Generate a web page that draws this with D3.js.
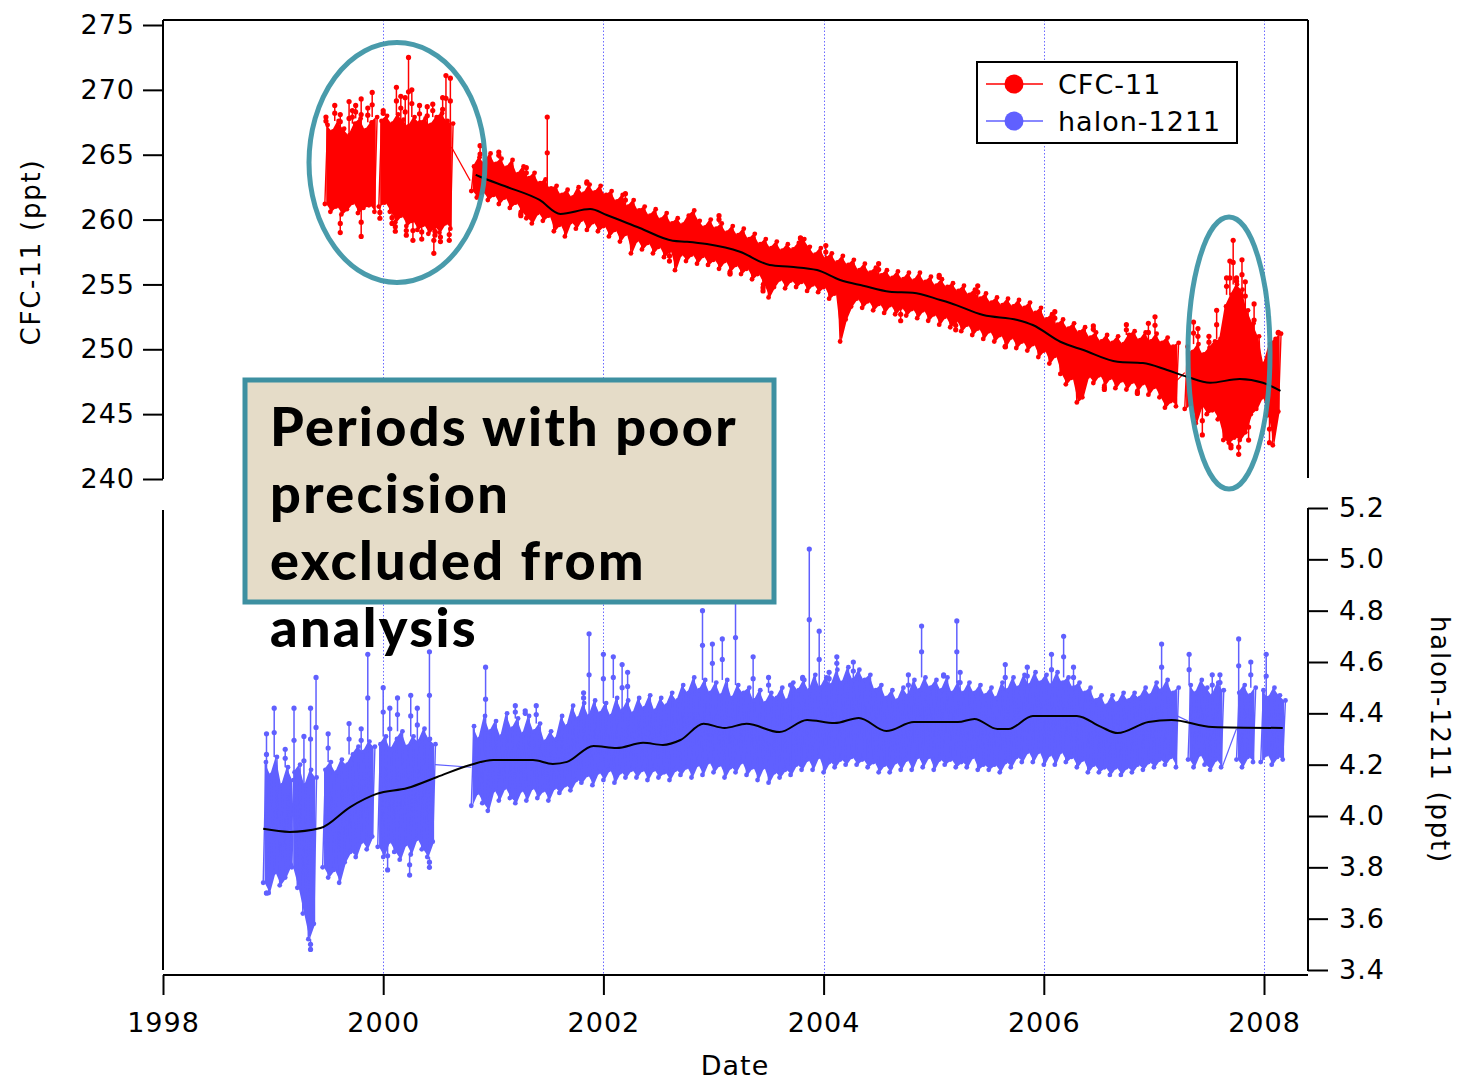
<!DOCTYPE html>
<html>
<head>
<meta charset="utf-8">
<script src="https://cdn.jsdelivr.net/npm/d3@7"></script>
<style>
  html, body { margin: 0; padding: 0; background: #fff; }
  svg { display: block; }
  text { font-family: "DejaVu Sans", Verdana, sans-serif; }
</style>
</head>
<body>
<svg id="chart" width="1458" height="1080"></svg>
<script>
// ---------------- data ----------------
// Each record series is stored as consecutive 0.05-year bins: the low and high
// value reached inside each bin, per continuous measurement segment.
const binStep = 0.05;

// CFC-11 (ppt)
const cfcSegmentStarts = [1999.47, 1999.96, 2000.80, 2007.28];
const cfcA_lo = [261.2, 260.6, 261.0, 260.4, 260.8, 261.3, 260.5, 260.9, 261.1, 260.6];
const cfcA_hi = [267.3, 266.8, 267.6, 267.0, 266.5, 267.4, 267.8, 266.9, 267.5, 267.9];
const cfcB_lo = [261.0, 261.3, 260.6, 259.8, 260.3, 259.5, 259.9, 259.2, 259.6, 258.9, 259.4, 259.0, 259.7, 259.3];
const cfcB_hi = [267.6, 268.0, 267.4, 268.1, 267.7, 267.2, 267.9, 267.5, 267.8, 267.3, 267.9, 268.2, 267.6, 267.4];
const cfcC_lo = [262.2,
  261.7, 262.1, 261.5, 261.9, 261.2, 261.7, 260.9, 261.3, 260.6, 260.1,
  259.7, 260.5, 259.9, 260.3, 259.1, 259.6, 258.7, 259.8, 259.3, 260.0,
  259.2, 259.8, 259.1, 259.5, 258.7, 259.2, 258.3, 258.9, 257.4, 258.4,
  257.7, 258.2, 257.4, 257.9, 257.1, 257.6, 256.1, 257.3, 256.8, 257.3,
  256.6, 257.2, 256.5, 256.9, 256.2, 256.8, 256.0, 256.5, 255.8, 256.2,
  255.4, 255.8, 255.0, 254.0, 254.8, 255.4, 254.7, 255.3, 254.8, 255.2,
  254.5, 255.0, 254.4, 254.8, 253.9, 254.3, 250.6, 252.3, 253.3, 253.9,
  253.2, 253.7, 253.0, 253.5, 252.8, 253.4, 252.7, 253.2, 252.6, 253.1,
  252.4, 253.0, 252.2, 252.7, 251.9, 252.5, 251.7, 252.2, 251.4, 251.9,
  251.1, 251.6, 250.8, 251.4, 250.6, 251.1, 250.2, 250.9, 250.1, 250.6,
  249.9, 250.4, 249.4, 249.9, 248.9, 249.5, 248.1, 247.3, 247.8, 245.9,
  246.3, 247.9, 247.4, 248.0, 247.2, 247.8, 247.0, 247.6, 246.9, 247.5,
  246.8, 247.4, 246.5, 247.1, 246.3, 245.5, 246.0, 245.6];
const cfcC_hi = [264.1,
  264.8, 264.4, 265.1, 264.3, 264.7, 264.0, 264.6, 263.5, 264.1, 263.2,
  263.6, 262.8, 263.1, 262.4, 262.6, 261.9, 262.3, 261.7, 262.5, 262.0,
  262.7, 262.1, 262.6, 261.9, 262.2, 261.4, 261.9, 261.0, 261.5, 260.7,
  261.0, 260.3, 260.8, 260.0, 260.5, 259.7, 260.1, 259.6, 260.3, 260.7,
  259.9, 259.4, 260.0, 259.3, 259.7, 259.0, 259.5, 258.8, 259.3, 258.5,
  258.9, 258.1, 258.5, 257.8, 258.3, 257.6, 258.1, 257.7, 258.2, 258.5,
  257.9, 257.3, 257.8, 257.0, 257.4, 256.7, 257.2, 256.5, 256.9, 256.1,
  256.6, 255.9, 256.3, 255.7, 256.1, 255.5, 256.0, 255.4, 255.9, 255.3,
  255.9, 255.2, 255.6, 254.9, 255.4, 254.8, 255.1, 254.5, 254.9, 254.2,
  254.6, 253.9, 254.3, 253.6, 254.0, 253.4, 253.9, 253.3, 253.8, 253.2,
  253.6, 252.8, 253.2, 252.3, 252.7, 251.9, 252.3, 251.6, 252.0, 251.3,
  251.7, 250.9, 251.3, 250.6, 251.1, 250.5, 251.0, 250.4, 251.1, 251.4,
  250.7, 251.3, 250.6, 251.2, 250.5, 250.9, 250.2, 250.5];
const cfcD_lo = [245.4, 245.8, 244.3, 245.6, 245.0, 245.3, 244.6, 243.0, 242.8, 243.2, 243.0, 243.6, 245.0, 245.4, 246.3, 244.9, 242.6, 245.2];
const cfcD_hi = [250.2, 249.8, 250.4, 249.6, 250.1, 250.6, 250.8, 253.3, 254.2, 255.0, 254.6, 253.0, 252.0, 251.0, 248.9, 250.4, 250.8, 251.2];
// isolated excursions beyond the dense band
const cfcSpikeYears  = [1999.48, 1999.56, 1999.61, 1999.69, 1999.72, 1999.75, 1999.80, 1999.86, 1999.90, 1999.61, 1999.80,
  2000.00, 2000.12, 2000.16, 2000.20, 2000.23, 2000.26, 2000.33, 2000.40, 2000.45, 2000.54, 2000.57, 2000.61,
  1999.97, 2000.08, 2000.11, 2000.21, 2000.27, 2000.35, 2000.46, 2000.47, 2000.52, 2000.60,
  2000.88, 2001.05, 2001.25, 2001.30, 2001.49, 2001.85, 2002.20, 2002.60, 2003.05, 2003.15, 2003.45, 2003.79, 2004.02, 2004.50, 2004.70,
  2005.05, 2005.20, 2005.40, 2005.65, 2006.10, 2006.45, 2006.55, 2006.75, 2006.85, 2006.95, 2007.01,
  2007.36, 2007.40, 2007.44, 2007.50, 2007.57, 2007.66, 2007.69, 2007.70, 2007.72, 2007.75, 2007.77, 2007.80, 2007.83, 2007.86, 2007.91, 2008.05, 2008.13];
const cfcSpikeValues = [267.9, 268.8, 268.1, 269.1, 268.4, 268.8, 269.3, 268.6, 269.8, 259.0, 258.7,
  268.4, 270.2, 269.5, 269.4, 272.5, 270.0, 268.8, 268.7, 268.9, 269.4, 271.1, 270.9,
  260.1, 259.7, 259.1, 258.8, 258.4, 258.5, 257.4, 258.8, 258.3, 258.4,
  265.7, 265.2, 260.3, 264.0, 267.9, 262.9, 262.0, 256.8, 260.3, 255.8, 254.5, 258.6, 258.0, 256.6, 252.2,
  255.7, 251.5, 254.9, 250.2, 252.9, 251.8, 246.9, 251.9, 246.6, 252.0, 252.5,
  252.1, 251.6, 243.4, 251.0, 253.0, 255.5, 256.8, 242.4, 258.4, 255.5, 241.9, 256.9, 255.2, 243.0, 253.5, 242.8, 251.3];
// joins between segments: [year0, value0, year1, value1]
const cfcBridges = [[2000.62, 265.6, 2000.79, 263.0], [2007.21, 247.6, 2007.28, 248.2]];
// smoothed curve
const cfcTrendYears  = [2000.84, 2000.88, 2001.12, 2001.42, 2001.61, 2001.88, 2002.03, 2002.33, 2002.63, 2002.76, 2002.94, 2003.24, 2003.51, 2003.70, 2003.94, 2004.15, 2004.36, 2004.60, 2004.81, 2005.06, 2005.15, 2005.45, 2005.76, 2005.90, 2006.15, 2006.36, 2006.67, 2006.90, 2007.12, 2007.30, 2007.51, 2007.78, 2007.99, 2008.15];
const cfcTrendValues = [263.45, 263.30, 262.53, 261.51, 260.43, 260.81, 260.35, 259.35, 258.37, 258.29, 258.11, 257.52, 256.50, 256.36, 256.11, 255.34, 254.90, 254.44, 254.36, 253.80, 253.57, 252.64, 252.26, 251.87, 250.58, 249.94, 249.04, 248.94, 248.40, 247.88, 247.42, 247.71, 247.42, 246.80];

// halon-1211 (ppt)
const halSegmentStarts = [1998.91, 1999.17, 1999.45, 1999.95, 2000.80, 2007.31, 2007.75, 2007.97];
const hal1_lo = [3.74, 3.70, 3.78, 3.73, 3.76, 3.81];
const hal1_hi = [4.21, 4.16, 4.23, 4.12, 4.19, 4.14];
const hal2_lo = [3.80, 3.72, 3.62, 3.52, 3.58];
const hal2_hi = [4.17, 4.20, 4.12, 4.18, 4.15];
const hal3_lo = [3.80, 3.76, 3.79, 3.74, 3.82, 3.86, 3.84, 3.90, 3.87, 3.92];
const hal3_hi = [4.18, 4.21, 4.17, 4.22, 4.20, 4.24, 4.27, 4.25, 4.29, 4.27];
const hal4_lo = [3.88, 3.84, 3.90, 3.86, 3.83, 3.89, 3.85, 3.91, 3.87, 3.84, 3.90];
const hal4_hi = [4.28, 4.31, 4.26, 4.30, 4.33, 4.27, 4.31, 4.29, 4.34, 4.30, 4.28];
const hal5_lo = [
  4.04, 4.09, 4.05, 4.02, 4.10, 4.06, 4.11, 4.07, 4.05, 4.10,
  4.06, 4.11, 4.07, 4.10, 4.06, 4.11, 4.09, 4.12, 4.10, 4.14,
  4.13, 4.16, 4.12, 4.17, 4.14, 4.18, 4.13, 4.17, 4.15, 4.18,
  4.15, 4.18, 4.14, 4.18, 4.15, 4.17, 4.14, 4.18, 4.16, 4.19,
  4.15, 4.20, 4.16, 4.21, 4.17, 4.20, 4.15, 4.19, 4.17, 4.21,
  4.16, 4.19, 4.14, 4.19, 4.13, 4.17, 4.15, 4.18, 4.16, 4.20,
  4.18, 4.22, 4.18, 4.23, 4.17, 4.21, 4.19, 4.22, 4.20, 4.23,
  4.20, 4.22, 4.19, 4.21, 4.17, 4.20, 4.17, 4.21, 4.18, 4.22,
  4.18, 4.23, 4.19, 4.23, 4.18, 4.22, 4.20, 4.22, 4.19, 4.21,
  4.19, 4.23, 4.18, 4.20, 4.18, 4.20, 4.17, 4.21, 4.19, 4.23,
  4.21, 4.25, 4.21, 4.25, 4.20, 4.24, 4.20, 4.25, 4.21, 4.23,
  4.19, 4.22, 4.17, 4.20, 4.17, 4.19, 4.16, 4.19, 4.16, 4.19,
  4.17, 4.20, 4.18, 4.21, 4.19, 4.22, 4.20, 4.23, 4.19];
const hal5_hi = [
  4.35, 4.30, 4.39, 4.33, 4.37, 4.31, 4.40, 4.34, 4.38, 4.32,
  4.39, 4.33, 4.36, 4.29, 4.33, 4.30, 4.39, 4.35, 4.43, 4.38,
  4.44, 4.39, 4.45, 4.40, 4.44, 4.39, 4.46, 4.41, 4.45, 4.40,
  4.46, 4.42, 4.47, 4.41, 4.46, 4.43, 4.48, 4.45, 4.51, 4.48,
  4.54, 4.49, 4.53, 4.48, 4.52, 4.47, 4.53, 4.46, 4.51, 4.48,
  4.50, 4.45, 4.49, 4.44, 4.48, 4.46, 4.50, 4.45, 4.52, 4.49,
  4.53, 4.49, 4.55, 4.50, 4.54, 4.51, 4.57, 4.52, 4.58, 4.53,
  4.57, 4.53, 4.55, 4.49, 4.51, 4.46, 4.49, 4.45, 4.50, 4.47,
  4.53, 4.49, 4.54, 4.50, 4.53, 4.49, 4.54, 4.48, 4.52, 4.48,
  4.52, 4.48, 4.51, 4.47, 4.50, 4.46, 4.52, 4.49, 4.54, 4.50,
  4.55, 4.51, 4.56, 4.52, 4.55, 4.51, 4.56, 4.52, 4.54, 4.50,
  4.52, 4.48, 4.50, 4.45, 4.47, 4.43, 4.47, 4.44, 4.48, 4.45,
  4.48, 4.46, 4.50, 4.47, 4.52, 4.49, 4.53, 4.48, 4.50];
const hal6_lo = [4.22, 4.19, 4.24, 4.20, 4.18, 4.22, 4.19];
const hal6_hi = [4.51, 4.48, 4.53, 4.50, 4.47, 4.52, 4.49];
const hal7_lo = [4.22, 4.19, 4.23, 4.21];
const hal7_hi = [4.48, 4.51, 4.47, 4.50];
const hal8_lo = [4.21, 4.24, 4.20, 4.23, 4.22];
const hal8_hi = [4.49, 4.46, 4.50, 4.47, 4.45];
const halSpikeYears = [1998.94, 1999.01, 1999.11, 1998.94, 1999.19, 1999.28, 1999.34, 1999.39, 1999.34, 1999.50, 1999.69, 1999.80, 1999.86,
  2000.00, 2000.06, 2000.13, 2000.25, 2000.31, 2000.42, 2000.04, 2000.24, 2000.42, 2000.93, 2001.20, 2001.29, 2001.39,
  2001.82, 2001.87, 2002.00, 2002.09, 2002.17, 2002.22, 2002.90, 2002.99, 2003.08, 2003.20, 2003.36, 2003.50, 2003.70,
  2003.81, 2003.87, 2003.96, 2004.05, 2004.12, 2004.27, 2004.77, 2004.89, 2005.09, 2005.21, 2005.24, 2005.65, 2005.85,
  2006.07, 2006.18, 2006.27, 2007.07, 2007.32, 2007.53, 2007.60, 2007.77, 2007.88, 2008.02];
const halSpikeValues = [4.32, 4.42, 4.26, 3.70, 4.42, 4.31, 4.42, 4.54, 3.48, 4.32, 4.36, 4.34, 4.63,
  4.50, 4.42, 4.46, 4.47, 4.42, 4.64, 3.79, 3.77, 3.80, 4.58, 4.43, 4.41, 4.43,
  4.48, 4.71, 4.63, 4.62, 4.59, 4.56, 4.80, 4.67, 4.69, 4.88, 4.62, 4.54, 4.51,
  4.54, 5.04, 4.72, 4.56, 4.62, 4.60, 4.55, 4.74, 4.55, 4.76, 4.56, 4.59, 4.58,
  4.63, 4.70, 4.58, 4.67, 4.63, 4.55, 4.55, 4.69, 4.60, 4.63];
const halBridges = [[2000.47, 4.20, 2000.80, 4.19], [2007.21, 4.39, 2007.31, 4.37], [2007.62, 4.19, 2007.75, 4.34]];
const halTrendYears  = [1998.91, 1999.15, 1999.43, 1999.70, 1999.94, 2000.22, 2000.49, 2000.79, 2001.00, 2001.36, 2001.54, 2001.67, 2001.91, 2002.12, 2002.36, 2002.54, 2002.70, 2002.91, 2003.10, 2003.30, 2003.60, 2003.85, 2004.10, 2004.32, 2004.57, 2004.82, 2005.22, 2005.37, 2005.58, 2005.68, 2005.90, 2006.30, 2006.52, 2006.67, 2006.95, 2007.16, 2007.53, 2008.17];
const halTrendValues = [3.950, 3.938, 3.953, 4.035, 4.086, 4.109, 4.152, 4.199, 4.218, 4.218, 4.203, 4.211, 4.273, 4.265, 4.285, 4.277, 4.296, 4.359, 4.343, 4.359, 4.327, 4.374, 4.362, 4.382, 4.331, 4.366, 4.366, 4.378, 4.339, 4.339, 4.390, 4.390, 4.347, 4.323, 4.366, 4.374, 4.347, 4.343];

// axes
const yearTicks = [1998, 2000, 2002, 2004, 2006, 2008];
const cfcTicks = [240, 245, 250, 255, 260, 265, 270, 275];
const halTicks = [3.4, 3.6, 3.8, 4.0, 4.2, 4.4, 4.6, 4.8, 5.0, 5.2];
const seriesNames = ["CFC-11", "halon-1211"];
const annotationLines = ["Periods with poor", "precision", "excluded from", "analysis"];

// ---------------- drawing ----------------
const RED = "#ff0000", BLUE = "#6060ff", TEAL = "#3f96a7";
const svg = d3.select("#chart");

const x = d3.scaleLinear().domain([1998, 2008]).range([163, 1264]);
const yC = d3.scaleLinear().domain([240, 275]).range([479, 25]);
const yH = d3.scaleLinear().domain([3.4, 5.2]).range([970, 508]);

function buildSegments(starts, los, his) {
  return starts.map((s, k) => los[k].map((lo, j) => ({ t: s + j * binStep, lo: lo, hi: his[k][j] })));
}
const cfcSegs = buildSegments(cfcSegmentStarts, [cfcA_lo, cfcB_lo, cfcC_lo, cfcD_lo], [cfcA_hi, cfcB_hi, cfcC_hi, cfcD_hi]);
const halSegs = buildSegments(halSegmentStarts,
  [hal1_lo, hal2_lo, hal3_lo, hal4_lo, hal5_lo, hal6_lo, hal7_lo, hal8_lo],
  [hal1_hi, hal2_hi, hal3_hi, hal4_hi, hal5_hi, hal6_hi, hal7_hi, hal8_hi]);

// dotted year gridlines
svg.append("g").selectAll("line").data(yearTicks.slice(1)).join("line")
  .attr("x1", d => Math.round(x(d)) + 0.5).attr("x2", d => Math.round(x(d)) + 0.5)
  .attr("y1", 20).attr("y2", 975)
  .attr("stroke", "#6a6aff").attr("stroke-width", 1).attr("stroke-dasharray", "1.5,2");

function drawSeries(segs, y, color, spikeYears, spikeValues, bridges) {
  const g = svg.append("g");
  const bins = segs.flat();
  // band fill between low and high values
  const area = d3.area().x(d => x(d.t + binStep / 4)).y0(d => y(d.lo)).y1(d => y(d.hi));
  segs.forEach(seg => g.append("path").attr("d", area(seg)).attr("fill", color));
  // points joined in time order
  const pts = segs.map(seg => seg.flatMap(d => [[d.t, d.lo], [d.t + binStep / 2, d.hi]]));
  const line = d3.line().x(d => x(d[0])).y(d => y(d[1]));
  pts.forEach(p => g.append("path").attr("d", line(p)).attr("fill", "none")
    .attr("stroke", color).attr("stroke-width", 1.4));
  bridges.forEach(b => g.append("line")
    .attr("x1", x(b[0])).attr("y1", y(b[1])).attr("x2", x(b[2])).attr("y2", y(b[3]))
    .attr("stroke", color).attr("stroke-width", 1.2));
  // spikes
  spikeYears.forEach((t, i) => {
    const v = spikeValues[i];
    const near = d3.least(bins, d => Math.abs(d.t - t));
    const base = v > near.hi ? near.hi : near.lo;
    g.append("line").attr("x1", x(t)).attr("x2", x(t)).attr("y1", y(base)).attr("y2", y(v))
      .attr("stroke", color).attr("stroke-width", 1.5);
    [v, (v + base) / 2].forEach(w => g.append("circle").attr("cx", x(t)).attr("cy", y(w))
      .attr("r", 2.6).attr("fill", color));
  });
  g.append("g").selectAll("circle").data(pts.flat()).join("circle")
    .attr("cx", d => x(d[0])).attr("cy", d => y(d[1])).attr("r", 2.4).attr("fill", color);
}
drawSeries(cfcSegs, yC, RED, cfcSpikeYears, cfcSpikeValues, cfcBridges);
drawSeries(halSegs, yH, BLUE, halSpikeYears, halSpikeValues, halBridges);

// smoothed curves
const trend = (ys, vs, y) => d3.line().curve(d3.curveMonotoneX).x(d => x(d)).y((d, i) => y(vs[i]))(ys);
svg.append("path").attr("d", trend(cfcTrendYears, cfcTrendValues, yC))
  .attr("fill", "none").attr("stroke", "#000").attr("stroke-width", 2);
svg.append("path").attr("d", trend(halTrendYears, halTrendValues, yH))
  .attr("fill", "none").attr("stroke", "#000").attr("stroke-width", 2);

// axes
function styleAxis(g) {
  g.select(".domain").remove();
  g.selectAll(".tick line").attr("stroke", "#000").attr("stroke-width", 2);
  g.selectAll(".tick text").attr("fill", "#000").style("font-size", "27px")
    .style("font-family", '"DejaVu Sans", Verdana, sans-serif').style("letter-spacing", "1px");
}
svg.append("g").attr("transform", "translate(163,0)")
  .call(d3.axisLeft(yC).tickValues(cfcTicks).tickSize(20).tickPadding(8).tickFormat(d3.format("d")))
  .call(styleAxis);
svg.append("g").attr("transform", "translate(1308,0)")
  .call(d3.axisRight(yH).tickValues(halTicks).tickSize(20).tickPadding(11).tickFormat(d3.format(".1f")))
  .call(styleAxis);
svg.append("g").attr("transform", "translate(0,975)")
  .call(d3.axisBottom(x).tickValues(yearTicks).tickSize(20).tickPadding(18).tickFormat(d3.format("d")))
  .call(styleAxis);

const frame = [[163, 20, 1308, 20], [163, 20, 163, 479], [163, 510, 163, 970],
  [1308, 20, 1308, 478], [1308, 508, 1308, 971], [163, 975, 1308, 975]];
svg.append("g").selectAll("line").data(frame).join("line")
  .attr("x1", d => d[0]).attr("y1", d => d[1]).attr("x2", d => d[2]).attr("y2", d => d[3])
  .attr("stroke", "#000").attr("stroke-width", 2);

// axis titles
svg.append("text").attr("transform", "translate(40,252) rotate(-90)").attr("text-anchor", "middle")
  .style("font-size", "26px").style("letter-spacing", "1.8px").text("CFC-11  (ppt)");
svg.append("text").attr("transform", "translate(1431,740) rotate(90)").attr("text-anchor", "middle")
  .style("font-size", "26px").style("letter-spacing", "1.8px").text("halon-1211  (ppt)");
svg.append("text").attr("x", 735).attr("y", 1075).attr("text-anchor", "middle")
  .style("font-size", "27px").style("letter-spacing", "1px").text("Date");

// highlighted periods
svg.append("ellipse").attr("cx", 397).attr("cy", 162.5).attr("rx", 88).attr("ry", 120)
  .attr("fill", "none").attr("stroke", TEAL).attr("stroke-width", 5).attr("stroke-opacity", 0.95);
svg.append("ellipse").attr("cx", 1229).attr("cy", 353).attr("rx", 41).attr("ry", 136)
  .attr("fill", "none").attr("stroke", TEAL).attr("stroke-width", 5).attr("stroke-opacity", 0.95);

// annotation
svg.append("rect").attr("x", 245).attr("y", 380).attr("width", 529).attr("height", 222)
  .attr("fill", "#e5dcc8").attr("stroke", "#3d90a1").attr("stroke-width", 5);
svg.append("g").selectAll("text").data(annotationLines).join("text")
  .attr("x", 270).attr("y", (d, i) => 446 + i * 67)
  .style("font-family", 'Lato, "Open Sans", sans-serif').style("font-weight", "900")
  .style("font-size", "54px").style("letter-spacing", "2.3px").attr("fill", "#000").text(d => d);

// legend
const lg = svg.append("g");
lg.append("rect").attr("x", 977).attr("y", 62).attr("width", 260).attr("height", 81)
  .attr("fill", "#fff").attr("stroke", "#000").attr("stroke-width", 2);
[RED, BLUE].forEach((c, i) => {
  const cy = 84 + i * 37;
  lg.append("line").attr("x1", 986).attr("x2", 1043).attr("y1", cy).attr("y2", cy)
    .attr("stroke", c).attr("stroke-width", 1.5);
  lg.append("circle").attr("cx", 1014).attr("cy", cy).attr("r", 9.5).attr("fill", c);
  lg.append("text").attr("x", 1058).attr("y", cy + 10).style("font-size", "27px")
    .style("letter-spacing", "1px").text(seriesNames[i]);
});
</script>
</body>
</html>
